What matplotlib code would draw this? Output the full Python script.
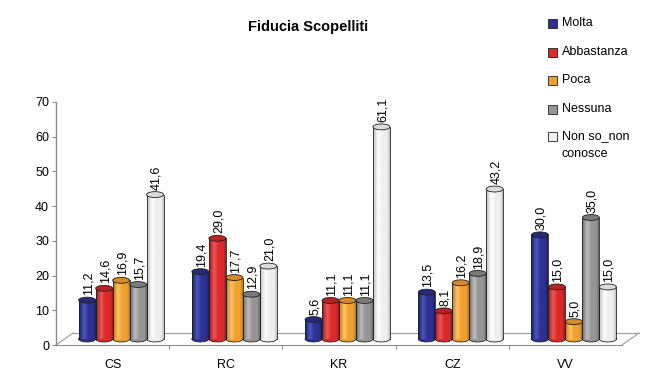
import numpy as np
import matplotlib
matplotlib.use('Agg')
import matplotlib.pyplot as plt
from matplotlib import transforms
from matplotlib.patches import Ellipse, Rectangle
from matplotlib.colors import LinearSegmentedColormap

# ---------------- data ----------------
categories = ['CS', 'RC', 'KR', 'CZ', 'VV']
series_names = ['Molta', 'Abbastanza', 'Poca', 'Nessuna', 'Non so_non\nconosce']
molta = [11.2, 19.4, 5.6, 13.5, 30.0]
abbastanza = [14.6, 29.0, 11.1, 8.1, 15.0]
poca = [16.9, 17.7, 11.1, 16.2, 5.0]
nessuna = [15.7, 12.9, 11.1, 18.9, 35.0]
non_so = [41.6, 21.0, 61.1, 43.2, 15.0]
y_ticks = [0, 10, 20, 30, 40, 50, 60, 70]
title = 'Fiducia Scopelliti'

series_values = [molta, abbastanza, poca, nessuna, non_so]
base_colors = ['#2E3192', '#D92B2B', '#F0A030', '#969696', '#EFEFEF']
light_colors = ['#4A58C0', '#EE5656', '#FFC468', '#BEBEBE', '#FFFFFF']
dark_colors = ['#1A1F60', '#9A1C1C', '#B87818', '#6A6A6A', '#BDBDBD']
top_colors = ['#262A78', '#B82424', '#D88A24', '#7A7A7A', '#DCDCDC']
edge_color = '#202020'

plt.rcParams['font.family'] = ['Liberation Sans', 'DejaVu Sans']

W, H = 671, 382
fig = plt.figure(figsize=(W / 100, H / 100), dpi=100)
ax = fig.add_axes([56 / W, 37 / H, 566 / W, 243 / H])
ax.set_xlim(-0.5, 4.5)
ax.set_ylim(0, 70)

# 3-D depth offsets (pixels -> inches)
bar_shift = transforms.ScaledTranslation(8.5 / 100, 6 / 100, fig.dpi_scale_trans)
back_shift = transforms.ScaledTranslation(17 / 100, 12 / 100, fig.dpi_scale_trans)
tr = ax.transData + bar_shift
tr_back = ax.transAxes + back_shift

# floor
floor_col = '#9A9A9A'
ax.plot([0, 1], [0, 0], transform=tr_back, color=floor_col, lw=0.8, clip_on=False, zorder=0.5)
for xa in (0, 1):
    p0 = ax.transAxes.transform((xa, 0))
    p1 = tr_back.transform((xa, 0))
    inv = ax.transAxes.inverted()
    a0 = inv.transform(p0)
    a1 = inv.transform(p1)
    ax.plot([a0[0], a1[0]], [a0[1], a1[1]], transform=ax.transAxes,
            color=floor_col, lw=0.8, clip_on=False, zorder=0.5)

# bars as cylinders
w = 0.15
n = len(series_values)
grad = np.linspace(0, 1, 64)[None, :]
for i, vals in enumerate(series_values):
    cmap = LinearSegmentedColormap.from_list(
        f'c{i}', [(0, dark_colors[i]), (0.3, light_colors[i]), (0.55, base_colors[i]),
                  (0.85, base_colors[i]), (1, dark_colors[i])])
    for j, v in enumerate(vals):
        x = j + (i - (n - 1) / 2) * w
        eh = 1.7
        # bottom cap
        ax.add_patch(Ellipse((x, 0), w, eh, transform=tr, fc=base_colors[i],
                             ec=edge_color, lw=0.6, zorder=2, clip_on=False))
        bc = ax.bar(x, v, w, bottom=0, transform=tr, color='none', lw=0,
                    zorder=2.1, clip_on=False)
        patch = bc.patches[0]
        im = ax.imshow(grad, cmap=cmap, extent=(x - w / 2, x + w / 2, 0, v),
                       transform=tr, aspect='auto', interpolation='bilinear',
                       zorder=2.2)
        im.set_clip_path(patch)
        for xe in (x - w / 2, x + w / 2):
            ax.plot([xe, xe], [0, v], transform=tr, color=edge_color, lw=0.6,
                    zorder=2.3, clip_on=False)
        ax.add_patch(Ellipse((x, v), w, eh, transform=tr, fc=top_colors[i],
                             ec=edge_color, lw=0.6, zorder=2.4, clip_on=False))
        ax.annotate(f'{v:.1f}'.replace('.', ','), xy=(x, v), xycoords=tr,
                    xytext=(0.8, 3.5), textcoords='offset points', rotation=90,
                    ha='center', va='bottom', fontsize=9,
                    annotation_clip=False, zorder=5)

ax.set_xlim(-0.5, 4.5)
ax.set_ylim(0, 70)

# axes styling
for s in ('top', 'right'):
    ax.spines[s].set_visible(False)
ax.spines['left'].set_color('#8C8C8C')
ax.spines['bottom'].set_color('#8C8C8C')
ax.spines['left'].set_linewidth(1.0)
ax.spines['bottom'].set_linewidth(0.8)

ax.set_yticks(y_ticks)
ax.set_yticklabels([str(t) for t in y_ticks])
ax.tick_params(axis='y', length=3, width=0.8, color='#8C8C8C', pad=2, labelsize=9)
ax.set_xticks(range(len(categories)))
ax.set_xticklabels(categories)
ax.tick_params(axis='x', which='major', length=0, pad=10, labelsize=9)
ax.set_xticks([k + 0.5 for k in range(len(categories) - 1)], minor=True)
ax.tick_params(axis='x', which='minor', length=3, width=0.8, color='#8C8C8C', direction='out')

# title
fig.text(308 / W, 1 - 27 / H, title, ha='center', va='center', fontsize=10.5,
         fontweight='bold')

# legend (manual)
row_y = [23, 52, 80, 109, 137]
for i, name in enumerate(series_names):
    yc = row_y[i]
    fig.patches.append(Rectangle((548 / W, 1 - (yc + 4.5) / H), 9 / W, 9 / H,
                                 transform=fig.transFigure, fc=base_colors[i],
                                 ec=edge_color, lw=0.6))
    nl = name.count('\n')
    if nl == 0:
        fig.text(562 / W, 1 - yc / H, name, ha='left', va='center', fontsize=9)
    else:
        fig.text(562 / W, 1 - (yc - 7) / H, name, ha='left', va='top', fontsize=9,
                 linespacing=1.65)

fig.savefig('out.png', dpi=100)
